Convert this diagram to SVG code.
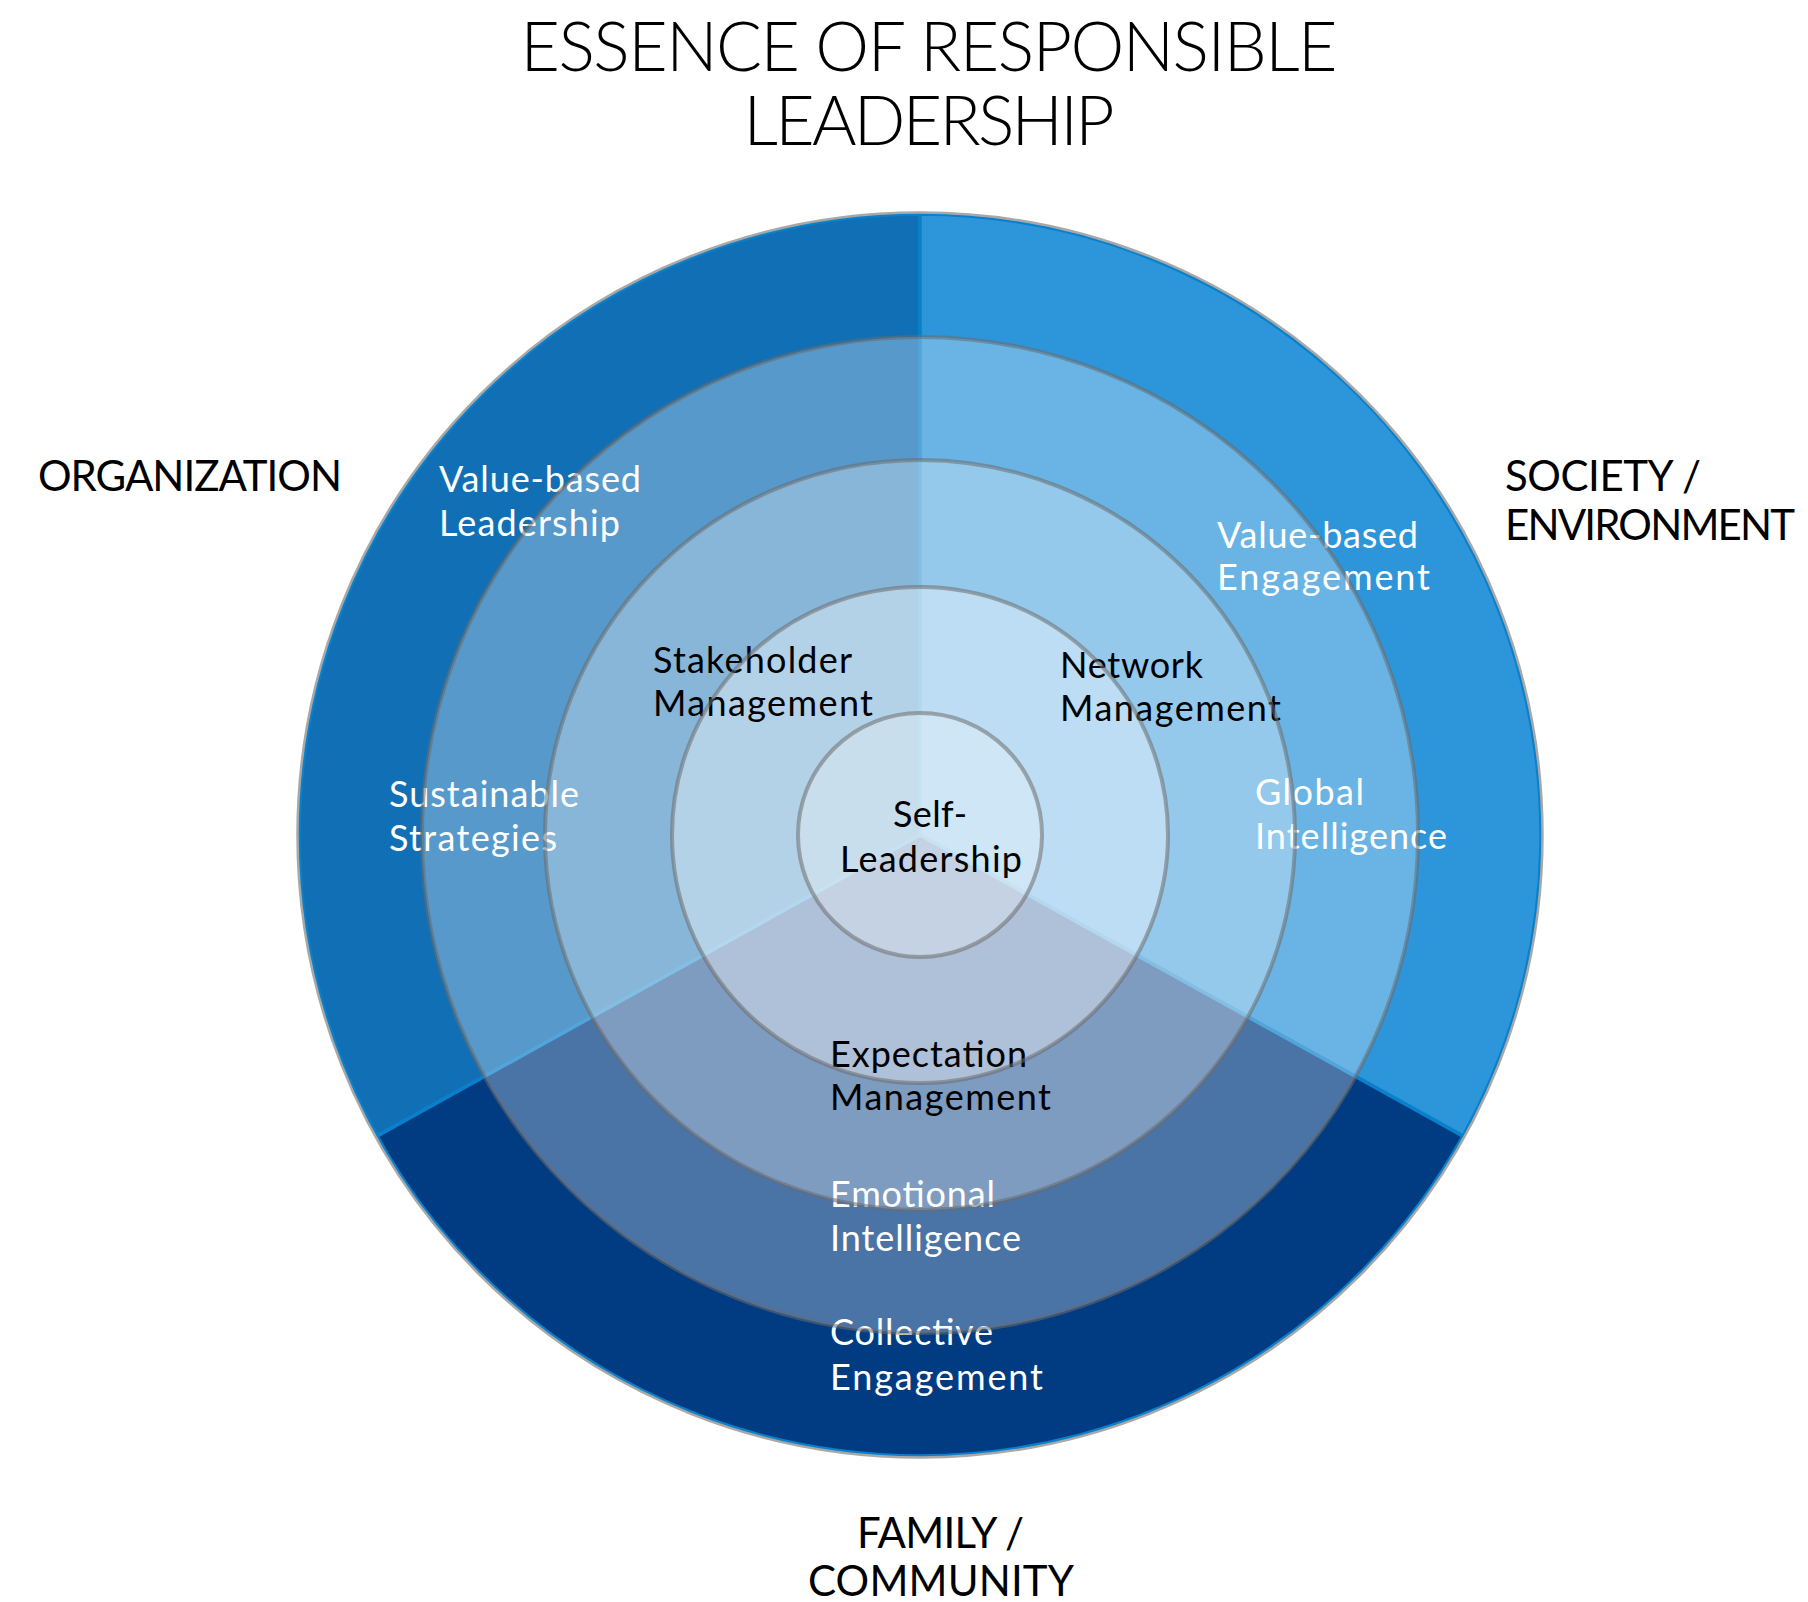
<svg xmlns="http://www.w3.org/2000/svg" width="1808" height="1602" viewBox="0 0 1808 1602">
<style>
.t{font-family:Lato,"Open Sans","Liberation Sans",sans-serif}
.title{font-size:68px;fill:#000;font-weight:300}
.lbl{font-size:42px;fill:#000}
.in{font-size:36px}
.w{fill:#fff}
.k{fill:#000}
.sec{stroke:#0A80CB;stroke-width:3.5;stroke-linejoin:round}
.ov{fill:#fff;stroke:none}
.ring{fill:none;stroke:#6c6c6c;stroke-opacity:.55;stroke-width:4}
</style>
<rect width="1808" height="1602" fill="#fff"/>
<g id="title">
<text class="t title" x="929" y="71" text-anchor="middle" textLength="817">ESSENCE OF RESPONSIBLE</text>
<text class="t title" x="929" y="145" text-anchor="middle" textLength="371">LEADERSHIP</text>
</g>
<g id="sectors">
<path id="sector-organization" class="sec" fill="#1170B5" d="M920,835 L920,214 A621,621 0 0 0 376.9,1136.1 Z"/>
<path id="sector-society" class="sec" fill="#2D96DA" d="M920,835 L920,214 A621,621 0 0 1 1463.1,1136.1 Z"/>
<path id="sector-family" class="sec" fill="#013B82" d="M920,835 L1463.1,1136.1 A621,621 0 0 1 376.9,1136.1 Z"/>
</g>
<g id="ring-fills">
<circle class="ov" cx="920" cy="835" r="498" fill-opacity="0.29"/>
<circle class="ov" cx="920" cy="835" r="375" fill-opacity="0.29"/>
<circle class="ov" cx="920" cy="835" r="248" fill-opacity="0.38"/>
<circle class="ov" cx="920" cy="835" r="122" fill-opacity="0.28"/>
</g>
<g id="outer-labels">
<g id="node-organization"><text class="t lbl" x="38" y="491" textLength="304">ORGANIZATION</text></g>
<g id="node-society"><text class="t lbl" x="1505" y="491" textLength="196">SOCIETY /</text><text class="t lbl" x="1505" y="540" textLength="290">ENVIRONMENT</text></g>
<g id="node-family"><text class="t lbl" x="857" y="1548" textLength="167">FAMILY /</text><text class="t lbl" x="808" y="1596" textLength="266">COMMUNITY</text></g>
</g>
<g id="inner-labels">
<g id="node-value-based-leadership"><text class="t in w" x="439" y="492" textLength="202">Value-based</text><text class="t in w" x="439" y="536" textLength="181">Leadership</text></g>
<g id="node-sustainable-strategies"><text class="t in w" x="389" y="807" textLength="190">Sustainable</text><text class="t in w" x="389" y="851" textLength="168">Strategies</text></g>
<g id="node-stakeholder-management"><text class="t in k" x="653" y="673" textLength="199">Stakeholder</text><text class="t in k" x="653" y="716" textLength="220">Management</text></g>
<g id="node-network-management"><text class="t in k" x="1060" y="678" textLength="143">Network</text><text class="t in k" x="1060" y="721" textLength="221">Management</text></g>
<g id="node-value-based-engagement"><text class="t in w" x="1217" y="548" textLength="201">Value-based</text><text class="t in w" x="1217" y="590" textLength="213">Engagement</text></g>
<g id="node-global-intelligence"><text class="t in w" x="1255" y="805" textLength="109">Global</text><text class="t in w" x="1255" y="849" textLength="192">Intelligence</text></g>
<g id="node-self-leadership"><text class="t in k" x="930" y="827" text-anchor="middle" textLength="74">Self-</text><text class="t in k" x="931" y="872" text-anchor="middle" textLength="182">Leadership</text></g>
<g id="node-expectation-management"><text class="t in k" x="830" y="1067" textLength="197">Expectation</text><text class="t in k" x="830" y="1110" textLength="221">Management</text></g>
<g id="node-emotional-intelligence"><text class="t in w" x="830" y="1207" textLength="165">Emotional</text><text class="t in w" x="830" y="1251" textLength="191">Intelligence</text></g>
<g id="node-collective-engagement"><text class="t in w" x="830" y="1345" textLength="163">Collective</text><text class="t in w" x="830" y="1390" textLength="213">Engagement</text></g>
</g>
<g id="connectors">
<circle class="ring" cx="920" cy="835" r="498"/>
<circle class="ring" cx="920" cy="835" r="375"/>
<circle class="ring" cx="920" cy="835" r="248"/>
<circle class="ring" cx="920" cy="835" r="122"/>
<circle cx="920" cy="835" r="622.5" fill="none" stroke="#a8a8a8" stroke-width="2.5"/>
</g>
</svg>
